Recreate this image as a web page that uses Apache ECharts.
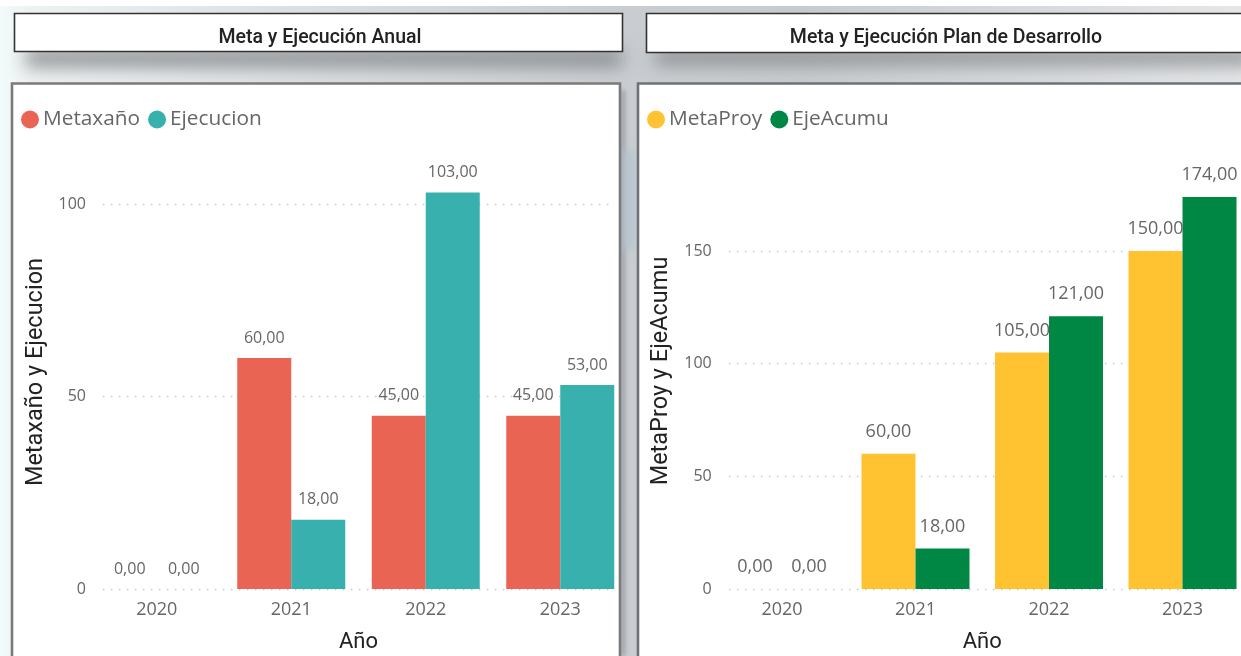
<!DOCTYPE html>
<html>
<head>
<meta charset="utf-8">
<style>
html,body{margin:0;padding:0;width:1241px;height:656px;overflow:hidden;background:#fff}
#bg{position:absolute;left:0;top:6px;width:1241px;height:650px;
background:linear-gradient(90deg,#f2fbfb 0,#eef1f2 30px,#dcdfe2 300px,#c9cdd1 620px,#c8cbce 800px,#e4e6e8 1241px)}
#shadow1{position:absolute;left:26px;top:50px;width:596px;height:16px;background:#85888b;filter:blur(9px)}
#shadow2{position:absolute;left:655px;top:50px;width:600px;height:14px;background:#85888b;filter:blur(9px)}
#shadow3{position:absolute;left:621px;top:90px;width:4px;height:566px;background:#9a9da0;filter:blur(2px)}
#map{position:absolute;left:624px;top:150px;width:10px;height:100px;background:#b4c3cf;filter:blur(5px)}
#chart{position:absolute;left:0;top:0;width:1241px;height:656px}
</style>
</head>
<body>
<div id="bg"></div><div id="shadow1"></div><div id="shadow2"></div><div id="shadow3"></div><div id="map"></div>
<div id="chart"></div>
<script src="https://cdn.jsdelivr.net/npm/echarts@6/dist/echarts.min.js"></script>
<script>
const years = ['2020','2021','2022','2023'];
const metaxano = [0,60,45,45];
const ejecucion = [0,18,103,53];
const metaProy = [0,60,105,150];
const ejeAcumu = [0,18,121,174];
const leftTitle = 'Meta y Ejecución Anual';
const rightTitle = 'Meta y Ejecución Plan de Desarrollo';
const leftYName = 'Metaxaño y Ejecucion';
const rightYName = 'MetaProy y EjeAcumu';
const xName = 'Año';

const FONT = '"Open Sans", sans-serif';
const DIN = 'Roboto, sans-serif';
const TXT = '#666666';
const fmt = v => v.toFixed(2).replace('.', ',');

function barSeries(name, data, color, xi, yi, size, dist){
  return {type:'bar', name, data, xAxisIndex:xi, yAxisIndex:yi, barWidth:54, barGap:'0%',
    itemStyle:{color},
    z:3,
    label:{show:true, position:'top', distance:dist, color:TXT, fontFamily:FONT, fontSize:size,
      formatter:p=>fmt(p.value)}};
}
function catAxis(gridIndex, nameGap){
  return {type:'category', gridIndex, data:years,
    axisLine:{show:false}, axisTick:{show:false}, splitLine:{show:false},
    axisLabel:{color:TXT, fontFamily:FONT, fontSize:18, margin:12, interval:0},
    name:xName, nameLocation:'middle', nameGap,
    nameTextStyle:{color:'#222', fontFamily:DIN, fontSize:22}};
}
function valAxis(gridIndex, max, name, nameGap, margin){
  return {type:'value', gridIndex, min:0, max, interval:50,
    axisLine:{show:false}, axisTick:{show:false}, splitLine:{show:false},
    axisLabel:{color:TXT, fontFamily:FONT, fontSize:16, margin, showMaxLabel:false, padding:[6,0,0,0]},
    name, nameLocation:'middle', nameGap, nameRotate:90,
    nameTextStyle:{color:'#222', fontFamily:DIN, fontSize:23.5}};
}
function dotAxis(gridIndex, max){
  return {type:'value', gridIndex, min:0, max, interval:50,
    axisLine:{show:false}, axisTick:{show:false}, axisLabel:{show:false},
    splitLine:{show:true, showMaxLine:false, lineStyle:{color:'#c4c4c4', width:1.4, type:[1.4,6.6]}}};
}
function hiddenX(gridIndex){
  return {type:'value', gridIndex, min:0, max:1, show:false};
}
function box(x,y,w,h,stroke,lw){
  return {type:'rect', shape:{x,y,width:w,height:h}, style:{fill:'#fff', stroke, lineWidth:lw}, z:-10};
}
function caption(text,x,y){
  return {type:'text', x, y, z:-9, style:{text, fill:'#222', font:'500 19.5px '+DIN, textAlign:'center', textVerticalAlign:'middle'}};
}
function gridBox(left,width,top,height){
  return {left,width,top,height,outerBoundsMode:'none',containLabel:false};
}

const LEFT_MAX = 112.7, RIGHT_MAX = 193.5;
const chart = echarts.init(document.getElementById('chart'), null, {renderer:'canvas'});
chart.setOption({
  animation:false,
  backgroundColor:'transparent',
  graphic:{elements:[
    box(14.5,13.5,608,38,'#333',1.6),
    box(646.5,13.5,640,39,'#333',1.6),
    box(12,83.5,608,600,'#7a7a7a',2.6),
    box(638,83.5,640,600,'#6e7275',2.6),
    caption(leftTitle,320,38),
    caption(rightTitle,946,38)
  ]},
  legend:[
    {data:['Metaxaño','Ejecucion'], left:16, top:104, icon:'circle', itemWidth:18, itemHeight:18, itemGap:8,
      textStyle:{color:TXT, fontFamily:FONT, fontSize:20.8, padding:[0,0,0,-1]}},
    {data:['MetaProy','EjeAcumu'], left:642, top:104, icon:'circle', itemWidth:18, itemHeight:18, itemGap:8,
      textStyle:{color:TXT, fontFamily:FONT, fontSize:20.8, padding:[0,0,0,-1]}}
  ],
  grid:[
    gridBox(89.5,538,155.1,433.9),
    gridBox(715.25,534,153,436),
    gridBox(103,512,155.1,433.9),
    gridBox(729,507,153,436)
  ],
  xAxis:[catAxis(0,42), catAxis(1,42), hiddenX(2), hiddenX(3)],
  yAxis:[
    valAxis(0,LEFT_MAX,leftYName,41,3.5),
    valAxis(1,RIGHT_MAX,rightYName,42,3.5),
    dotAxis(2,LEFT_MAX),
    dotAxis(3,RIGHT_MAX)
  ],
  series:[
    barSeries('Metaxaño',metaxano,'#E96452',0,0,16,12),
    barSeries('Ejecucion',ejecucion,'#38B1AE',0,0,16,12),
    barSeries('MetaProy',metaProy,'#FFC332',1,1,18,13),
    barSeries('EjeAcumu',ejeAcumu,'#008744',1,1,18,13)
  ]
});
</script>
</body>
</html>
